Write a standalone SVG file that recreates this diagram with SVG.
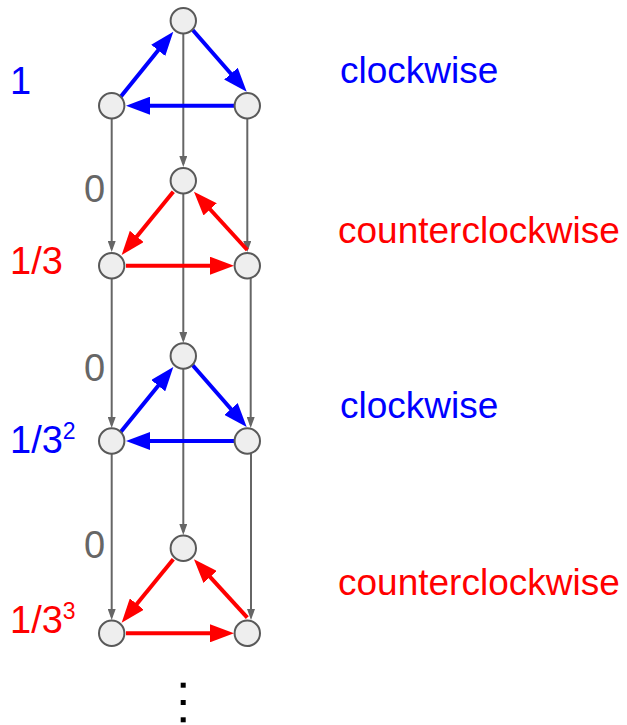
<svg xmlns="http://www.w3.org/2000/svg" width="627" height="725" viewBox="0 0 627 725">
<style>
.node{fill:#eeeeee;stroke:#595959;stroke-width:2}
.g{stroke:#666666;stroke-width:2;fill:none;marker-end:url(#ag)}
.b{stroke:#0000ff;stroke-width:4;fill:none;marker-end:url(#ab)}
.r{stroke:#ff0000;stroke-width:4;fill:none;marker-end:url(#ar)}
text{font-family:"Liberation Sans",Arial,sans-serif}
.lbl{font-size:37px}
.num{font-size:38px}
.sup{font-size:23px}
.blue{fill:#0000ff}
.red{fill:#ff0000}
.gray{fill:#666666}
</style>
<defs>
<marker id="ag" markerUnits="userSpaceOnUse" markerWidth="11" markerHeight="8" refX="8" refY="4" orient="auto"><path d="M0,0 L11,4 L0,8 z" fill="#666666"/></marker>
<marker id="ab" markerUnits="userSpaceOnUse" markerWidth="24" markerHeight="18" refX="10" refY="9" orient="auto"><path d="M0,0 L24,9 L0,18 z" fill="#0000ff"/></marker>
<marker id="ar" markerUnits="userSpaceOnUse" markerWidth="24" markerHeight="18" refX="10" refY="9" orient="auto"><path d="M0,0 L24,9 L0,18 z" fill="#ff0000"/></marker>
</defs>
<g id="connectors">
<path class="g" d="M111.7,118.7 L111.7,249"/>
<path class="g" d="M183.3,33.7 L183.3,164"/>
<path class="g" d="M247.3,118.7 L247.3,249"/>
<path class="g" d="M111.7,278.7 L111.7,425"/>
<path class="g" d="M183.3,193.7 L183.3,340"/>
<path class="g" d="M250.7,278 L250.7,425"/>
<path class="g" d="M111.7,454 L111.7,617"/>
<path class="g" d="M183.3,369 L183.3,532"/>
<path class="g" d="M251,453.5 L251,617"/>
<path class="b" d="M120.7,96.7 L164.5,42.6"/>
<path class="b" d="M192.7,30 L237.5,81.2"/>
<path class="b" d="M234,105.7 L140,105.7"/>
<path class="r" d="M173.3,191.7 L130.5,244.2"/>
<path class="r" d="M126,265.7 L220,265.7"/>
<path class="r" d="M247.3,250 L203.4,202"/>
<path class="b" d="M120.7,432 L164.5,377.9"/>
<path class="b" d="M192.7,365.3 L237.5,416.5"/>
<path class="b" d="M234,441 L140,441"/>
<path class="r" d="M173.3,559.3 L130.5,611.8"/>
<path class="r" d="M126,633.3 L220,633.3"/>
<path class="r" d="M247.3,617.6 L203.4,569.6"/>
</g>
<g id="n1t"><circle class="node" cx="183.3" cy="20.7" r="12.7"/></g>
<g id="n1l"><circle class="node" cx="111.7" cy="105.7" r="12.7"/></g>
<g id="n1r"><circle class="node" cx="247.3" cy="105.7" r="12.7"/></g>
<g id="n2t"><circle class="node" cx="183.3" cy="180.7" r="12.7"/></g>
<g id="n2l"><circle class="node" cx="111.7" cy="265.7" r="12.7"/></g>
<g id="n2r"><circle class="node" cx="247.3" cy="265.7" r="12.7"/></g>
<g id="n3t"><circle class="node" cx="183.3" cy="356" r="12.7"/></g>
<g id="n3l"><circle class="node" cx="111.7" cy="441" r="12.7"/></g>
<g id="n3r"><circle class="node" cx="247.3" cy="441" r="12.7"/></g>
<g id="n4t"><circle class="node" cx="183.3" cy="548.3" r="12.7"/></g>
<g id="n4l"><circle class="node" cx="111.7" cy="633.3" r="12.7"/></g>
<g id="n4r"><circle class="node" cx="247.3" cy="633.3" r="12.7"/></g>
<g id="labels">
<text class="lbl blue" x="340" y="83">clockwise</text>
<text class="lbl red" x="338" y="243">counterclockwise</text>
<text class="lbl blue" x="340" y="418">clockwise</text>
<text class="lbl red" x="338" y="595">counterclockwise</text>
<text class="num blue" x="10" y="94">1</text>
<text class="num gray" x="84" y="202">0</text>
<text class="num red" x="10" y="274">1/3</text>
<text class="num gray" x="84" y="381">0</text>
<text class="num blue" x="10" y="453">1/3<tspan class="sup" dy="-14">2</tspan></text>
<text class="num gray" x="84" y="558">0</text>
<text class="num red" x="10" y="633">1/3<tspan class="sup" dy="-14">3</tspan></text>
</g>
<g id="ellipsis" fill="#000000">
<rect x="180.7" y="682.7" width="5" height="5"/>
<rect x="180.7" y="700" width="5" height="5"/>
<rect x="180.7" y="717.3" width="5" height="5"/>
</g>
</svg>
